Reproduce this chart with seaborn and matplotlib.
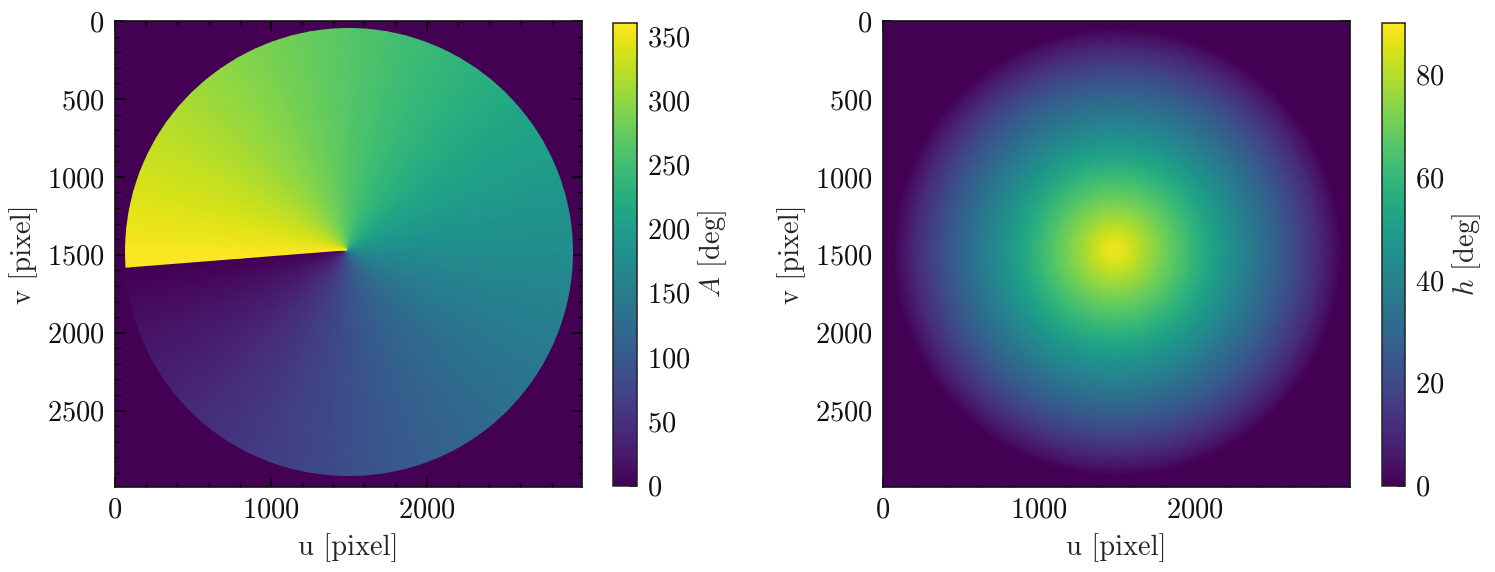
import numpy as np
import matplotlib
matplotlib.use("Agg")
import matplotlib.pyplot as plt
from matplotlib.patches import Circle
from matplotlib.ticker import MultipleLocator
import seaborn as sns

# Azimuth samples around the disk, starting at the seam
azimuth_deg = [0, 5, 10, 15, 20, 25, 30, 35, 40, 45, 50, 55, 60, 65, 70, 75, 80, 85,
               90, 95, 100, 105, 110, 115, 120, 125, 130, 135, 140, 145, 150, 155, 160, 165, 170, 175,
               180, 185, 190, 195, 200, 205, 210, 215, 220, 225, 230, 235, 240, 245, 250, 255, 260, 265,
               270, 275, 280, 285, 290, 295, 300, 305, 310, 315, 320, 325, 330, 335, 340, 345, 350, 355, 360]

# Altitude read along a radius from the centre of the right panel
radius_px = [0, 100, 200, 300, 400, 500, 600, 700, 800, 900, 1000, 1100, 1200, 1300, 1400, 1440, 2200]
altitude_deg = [90, 84, 77.5, 71.5, 65.5, 59.5, 53, 47, 41, 35, 29, 23, 16.5, 10, 3, 0, 0]

# Axis ticks
u_ticks = [0, 1000, 2000]
v_ticks = [0, 500, 1000, 1500, 2000, 2500]
azimuth_ticks = [0, 50, 100, 150, 200, 250, 300, 350]
altitude_ticks = [0, 20, 40, 60, 80]

sns.set_theme(style="ticks", rc={
    "mathtext.fontset": "cm",
    "axes.formatter.use_mathtext": True,
    "axes.unicode_minus": False,
})
plt.rcParams["font.family"] = ["cmr10", "DejaVu Serif"]

cmap = sns.color_palette("viridis", as_cmap=True)
FONT = 20.5
W, H = 1495, 572


def px_axes(fig, left, top, right, bottom):
    return fig.add_axes([left / W, 1 - bottom / H, (right - left) / W, (bottom - top) / H])


def style_image_axes(ax):
    ax.set_facecolor(cmap(0.0))
    ax.set_xlim(0, 2995)
    ax.set_ylim(2990, 0)
    ax.set_xticks(u_ticks)
    ax.set_yticks(v_ticks)
    ax.xaxis.set_minor_locator(MultipleLocator(200))
    ax.yaxis.set_minor_locator(MultipleLocator(100))
    ax.tick_params(which="major", direction="in", top=True, right=True, length=7.2, width=1.1,
                   labelsize=FONT, pad=7.5, color="black", labelcolor="#111111")
    ax.tick_params(which="minor", direction="in", top=True, right=True, length=3.6, width=1.0, color="black")
    for s in ax.spines.values():
        s.set_linewidth(1.2)
        s.set_color("#111111")
    ax.set_xlabel("u [pixel]", fontsize=FONT, labelpad=7)
    ax.set_ylabel("v [pixel]", fontsize=FONT, labelpad=6)


def style_colorbar(cbar, ticks, minor, label):
    cbar.set_ticks(ticks)
    cbar.ax.yaxis.set_minor_locator(MultipleLocator(minor))
    cbar.ax.tick_params(which="major", direction="in", right=True, length=6, width=1.1,
                        labelsize=FONT, pad=7, color="black", labelcolor="#111111")
    cbar.ax.tick_params(which="minor", direction="in", right=True, length=3.2, width=1.0, color="black")
    cbar.outline.set_linewidth(1.1)
    cbar.outline.set_edgecolor("#222222")
    cbar.set_label(label, fontsize=FONT, labelpad=4.5)


fig = plt.figure(figsize=(W / 100, H / 100), dpi=100)

# Left panel: azimuth fan, clipped to the disk
ax_a = px_axes(fig, 115, 21, 582, 487)
style_image_axes(ax_a)
cx_a, cy_a = 1484, 1468
seam = 184.5
fan_r = np.array([0, 700, 1400, 1800])
phi = np.radians(seam + np.array(azimuth_deg))
R, P = np.meshgrid(fan_r, phi)
X = cx_a + R * np.cos(P)
Y = cy_a - R * np.sin(P)
Z = np.tile(np.array(azimuth_deg, dtype=float)[:, None], (1, len(fan_r)))
mesh_a = ax_a.pcolormesh(X, Y, Z, cmap=cmap, vmin=0, vmax=360, shading="gouraud")
disk = Circle((1500, 1483), 1438, transform=ax_a.transData, fill=False, edgecolor="none")
ax_a.add_patch(disk)
mesh_a.set_clip_path(disk)

cax_a = px_axes(fig, 613, 23, 637, 485.5)
cbar_a = fig.colorbar(mesh_a, cax=cax_a)
style_colorbar(cbar_a, azimuth_ticks, 10, r"$A$ [deg]")

# Right panel: altitude rings, drifting from the peak to the disk centre
ax_h = px_axes(fig, 883, 21, 1350, 487)
style_image_axes(ax_h)
theta = np.radians(np.arange(0, 365, 5))
R, T = np.meshgrid(np.array(radius_px, dtype=float), theta)
drift = np.minimum(R / 1440, 1)
X = 1484 + 20 * drift + R * np.cos(T)
Y = 1468 + 15 * drift - R * np.sin(T)
Z = np.tile(np.array(altitude_deg, dtype=float), (len(theta), 1))
mesh_h = ax_h.pcolormesh(X, Y, Z, cmap=cmap, vmin=0, vmax=90, shading="gouraud")

cax_h = px_axes(fig, 1382, 23, 1405, 485.5)
cbar_h = fig.colorbar(mesh_h, cax=cax_h)
style_colorbar(cbar_h, altitude_ticks, 5, r"$h$ [deg]")

fig.savefig("out.png", dpi=100)
